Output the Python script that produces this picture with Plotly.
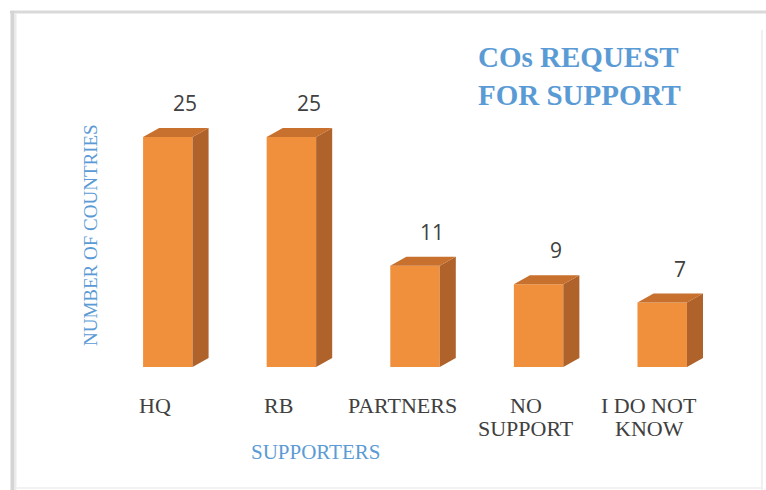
import plotly.graph_objects as go

# Survey results: where country offices requested support from
categories = ["HQ", "RB", "PARTNERS", "NO<br>SUPPORT", "I DO NOT<br>KNOW"]
countries = [25, 25, 11, 9, 7]

chart_title = "<b>COs REQUEST<br>FOR SUPPORT</b>"
y_title = "NUMBER OF COUNTRIES"
x_title = "SUPPORTERS"

# Page geometry (pixels)
W, H = 766, 490
L, R, T, B = 106, 42, 91, 123
PW, PH = W - L - R, H - T - B
Y_MAX = 30

# 3D look: bar width and depth in axis units
BAR_W = 0.40
DEPTH_X = 0.13
DEPTH_Y = 0.98

FRONT = "#F0903C"
TOP = "#C8702D"
SIDE = "#AF622A"
BLUE = "#5B9BD5"
SERIF = "Liberation Serif"


def px_to_paper_x(px):
    return (px - L) / PW


def px_to_paper_y(py):
    return 1 - (py - T) / PH


xs = list(range(len(categories)))
fig = go.Figure()

# Front faces
fig.add_trace(go.Bar(
    x=xs, y=countries, width=BAR_W,
    marker=dict(color=FRONT, line=dict(width=0)),
    hoverinfo="skip", showlegend=False,
))

# Side and top faces of each block
for x, v in zip(xs, countries):
    x0, x1 = x - BAR_W / 2, x + BAR_W / 2
    fig.add_trace(go.Scatter(
        x=[x1, x1 + DEPTH_X, x1 + DEPTH_X, x1, x1],
        y=[0, DEPTH_Y, v + DEPTH_Y, v, 0],
        fill="toself", fillcolor=SIDE, mode="lines",
        line=dict(width=0, color=SIDE), hoverinfo="skip", showlegend=False,
    ))
    fig.add_trace(go.Scatter(
        x=[x0, x1, x1 + DEPTH_X, x0 + DEPTH_X, x0],
        y=[v, v, v + DEPTH_Y, v + DEPTH_Y, v],
        fill="toself", fillcolor=TOP, mode="lines",
        line=dict(width=0, color=TOP), hoverinfo="skip", showlegend=False,
    ))

annotations = []

# Value labels above each block
for x, v in zip(xs, countries):
    annotations.append(dict(
        x=x + 0.14, y=v + DEPTH_Y, xref="x", yref="y",
        text=str(v), showarrow=False, xanchor="center", yanchor="middle", yshift=25,
        font=dict(family="Open Sans", size=21, color="#404040"),
    ))

# Category labels, one annotation per text line
LINE_STEP = 23
for x, c in zip(xs, categories):
    for k, line in enumerate(c.split("<br>")):
        annotations.append(dict(
            x=x - 0.105, y=0, xref="x", yref="y",
            text=line, showarrow=False, xanchor="center", yanchor="middle",
            yshift=-(38 + k * LINE_STEP),
            font=dict(family=SERIF, size=22, color="#404040"),
        ))

# Axis titles
annotations.append(dict(
    x=px_to_paper_x(90), y=px_to_paper_y(235), xref="paper", yref="paper",
    text=y_title, textangle=-90, showarrow=False,
    xanchor="center", yanchor="middle",
    font=dict(family=SERIF, size=19, color=BLUE),
))
annotations.append(dict(
    x=px_to_paper_x(315), y=px_to_paper_y(452), xref="paper", yref="paper",
    text=x_title, showarrow=False, xanchor="center", yanchor="middle",
    font=dict(family=SERIF, size=21, color=BLUE),
))

# Chart title
annotations.append(dict(
    x=px_to_paper_x(476), y=px_to_paper_y(76), xref="paper", yref="paper",
    text=chart_title, showarrow=False, xanchor="left", yanchor="middle",
    align="left",
    font=dict(family=SERIF, size=29, color=BLUE),
))

# Frame around the chart
shapes = [
    dict(type="line", xref="paper", yref="paper",
         x0=px_to_paper_x(10), x1=px_to_paper_x(W), y0=px_to_paper_y(12), y1=px_to_paper_y(12),
         line=dict(color="#D9D9D9", width=3), layer="below"),
    dict(type="line", xref="paper", yref="paper",
         x0=px_to_paper_x(12.5), x1=px_to_paper_x(12.5), y0=px_to_paper_y(11), y1=px_to_paper_y(H),
         line=dict(color="#D4D4D4", width=4), layer="below"),
    dict(type="line", xref="paper", yref="paper",
         x0=px_to_paper_x(15.5), x1=px_to_paper_x(15.5), y0=px_to_paper_y(13), y1=px_to_paper_y(H),
         line=dict(color="#EBEBEB", width=2), layer="below"),
    dict(type="line", xref="paper", yref="paper",
         x0=px_to_paper_x(762), x1=px_to_paper_x(762), y0=px_to_paper_y(30), y1=px_to_paper_y(H),
         line=dict(color="#F0F0F0", width=2), layer="below"),
    dict(type="line", xref="paper", yref="paper",
         x0=px_to_paper_x(16), x1=px_to_paper_x(762), y0=px_to_paper_y(488), y1=px_to_paper_y(488),
         line=dict(color="#F2F2F2", width=2), layer="below"),
]

fig.update_layout(
    width=W, height=H,
    margin=dict(l=L, r=R, t=T, b=B, pad=0),
    paper_bgcolor="white", plot_bgcolor="white",
    xaxis=dict(range=[-0.5, len(categories) - 0.5], showgrid=False, zeroline=False,
               showline=False, showticklabels=False, ticks="", fixedrange=True),
    yaxis=dict(range=[0, Y_MAX], showgrid=False, zeroline=False,
               showline=False, showticklabels=False, ticks="", fixedrange=True),
    annotations=annotations,
    shapes=shapes,
    showlegend=False,
)

fig.write_html("out.html")
